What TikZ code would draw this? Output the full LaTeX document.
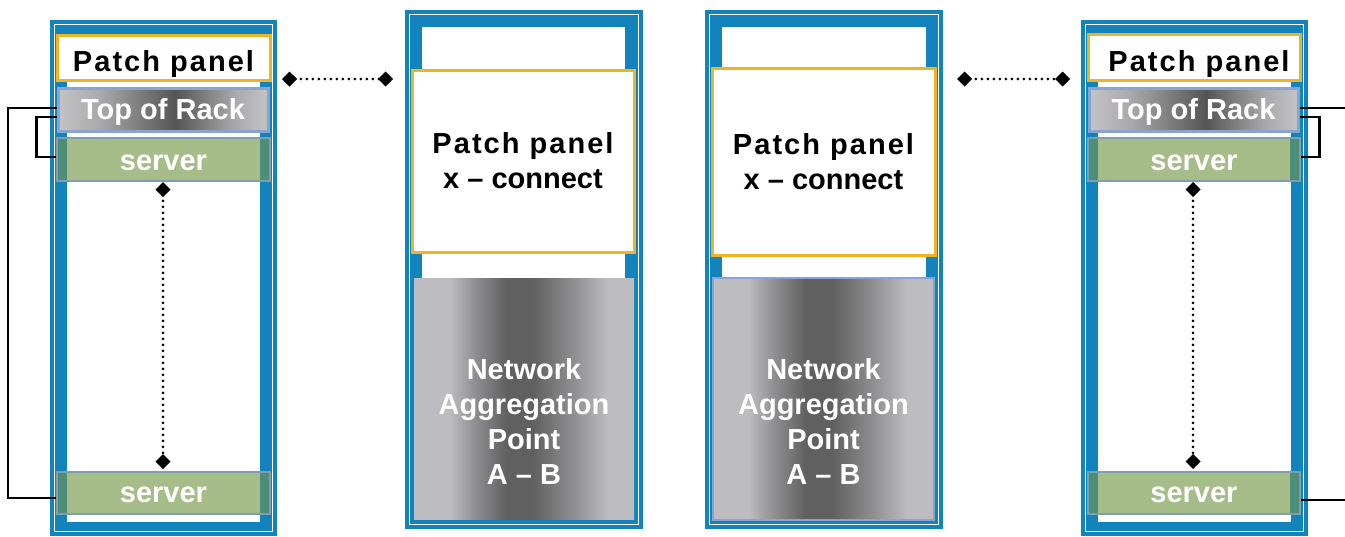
\documentclass[tikz,border=0pt]{standalone}
\usepackage{fontspec}
\setmainfont{Liberation Sans}
\newfontfamily\lsfont{Liberation Sans}[LetterSpace=7]
\usetikzlibrary{arrows.meta,calc}
\definecolor{rackblue}{HTML}{1283BC}
\definecolor{ppor}{HTML}{F0B323}
\definecolor{torb}{HTML}{88A4D0}
\definecolor{srvg}{HTML}{A7BD89}
\definecolor{srvd}{HTML}{4E8E78}
\definecolor{srvb}{HTML}{7E9FAE}
\definecolor{gl}{HTML}{BDBDC1}
\definecolor{gm}{HTML}{8E8E90}
\definecolor{gd}{HTML}{606060}
\definecolor{tl}{HTML}{C4C4C6}
\definecolor{tm}{HTML}{A9A9AB}
\definecolor{td}{HTML}{555555}
\pgfdeclarehorizontalshading{torshade}{100bp}{color(0bp)=(tl); color(25bp)=(tl); color(35bp)=(tm); color(53bp)=(td); color(67bp)=(tm); color(75bp)=(tl); color(100bp)=(tl)}
\pgfdeclarehorizontalshading{aggshade}{100bp}{color(0bp)=(gl); color(33bp)=(gl); color(39bp)=(gm); color(46bp)=(gd); color(52bp)=(gd); color(61bp)=(gm); color(69bp)=(gl); color(100bp)=(gl)}
\newcommand\myrack[8]{%
  \fill[rackblue] (#1,#2) rectangle (#3,#4);
  \draw[white,line width=1.4pt] ($(#1,#2)+(4.5,4.5)$) rectangle ($(#3,#4)+(-4.5,-4.5)$);
  \fill[white] (#5,#6) rectangle (#7,#8);}
\tikzset{
  bigfont/.style={font=\bfseries\fontsize{29}{35}\selectfont},
  pp/.style={draw=ppor, line width=3pt, fill=white, inner sep=0pt, bigfont, text=black},
  tor/.style={draw=torb, line width=3pt, shading=torshade, inner sep=0pt, bigfont, text=white},
  srv/.style={draw=srvb, line width=2pt, fill=srvg, inner sep=0pt, bigfont, text=white,
    path picture={
      \fill[srvd] (path picture bounding box.south west) rectangle ([xshift=10pt]path picture bounding box.north west);
      \fill[srvd] ([xshift=-10pt]path picture bounding box.south east) rectangle (path picture bounding box.north east);}},
  agg/.style={shading=aggshade, inner sep=0pt},
  aggtxt/.style={bigfont, text=white, align=center, inner sep=0pt},
  dots/.style={line width=3pt, dash pattern=on 0pt off 6pt, line cap=round,
    arrows={Diamond[length=15pt,width=15pt]-Diamond[length=15pt,width=15pt]}},
  wire/.style={line width=2.6pt, black},
  th/.style={text height=#1, text depth=0pt}
}
\begin{document}
\begin{tikzpicture}[x=1pt,y=-1pt]
\useasboundingbox (0,0) rectangle (1345,536);
% racks
\myrack{50}{20}{277}{536}{67}{35}{260}{522}
\myrack{405}{10}{643}{529}{422}{27}{625}{519}
\myrack{705}{10}{943}{529}{722}{27}{926}{519}
\myrack{1081}{20}{1308}{536}{1098}{35}{1291}{522}
% left rack
\node[pp, minimum width=213pt, minimum height=45pt, th=28.4pt] (pp1) at (163.5,57.5) {\lsfont Patch panel};
\node[tor, minimum width=210pt, minimum height=43pt, th=19.6pt] (tor1) at (163,109.5) {Top of Rack};
\node[srv, minimum width=213pt, minimum height=43pt, th=22pt] (srv1a) at (163.5,159.5) {server};
\node[srv, minimum width=213pt, minimum height=42pt, th=19.4pt] (srv1b) at (163.5,493) {server};
% centre rack 1
\node[pp, minimum width=222pt, minimum height=182pt, align=center, yshift=-2pt] (pp2) at (523,159) {{\lsfont Patch panel}\\x – connect};
\node[agg, minimum width=220pt, minimum height=241pt] (agg1) at (524,398.5) {};
\node[aggtxt] (agg1t) at (524,421) {Network\\Aggregation\\Point\\A – B};
% centre rack 2
\node[pp, minimum width=223pt, minimum height=187pt, align=center] (pp3) at (823.5,161.5) {{\lsfont Patch panel}\\x – connect};
\node[agg, draw=torb, line width=2.5pt, minimum width=221pt, minimum height=242pt] (agg2) at (823.5,399) {};
\node[aggtxt] (agg2t) at (823.5,421) {Network\\Aggregation\\Point\\A – B};
% right rack
\node[pp, minimum width=212pt, minimum height=46pt, th=29.4pt] (pp4) at (1194,57) {\hspace*{10pt}\lsfont Patch panel};
\node[tor, minimum width=209pt, minimum height=43pt, th=19.6pt] (tor4) at (1193.5,109.5) {Top of Rack};
\node[srv, minimum width=212pt, minimum height=43pt, th=22pt] (srv4a) at (1194,159.5) {server};
\node[srv, minimum width=212pt, minimum height=42pt, th=19.4pt] (srv4b) at (1194,493) {server};
% dotted links
\coordinate (d1a) at (282,79);
\coordinate (d1b) at (393,79);
\coordinate (d2a) at (957,79);
\coordinate (d2b) at (1070,79);
\coordinate (v1a) at (163,182);
\coordinate (v1b) at (163,469);
\coordinate (v4a) at (1193,182);
\coordinate (v4b) at (1193,469);
\draw[dots] (d1a) -- (d1b);
\draw[dots] (d2a) -- (d2b);
\draw[dots] (v1a) -- (v1b);
\draw[dots] (v4a) -- (v4b);
% wires
\coordinate (lc) at (8,300);
\draw[wire] ($(tor1.west)+(0,-1.5)$) -| (lc) |- ($(srv1b.west)+(0,5)$);
\draw[wire] ($(tor1.west)+(0,7.5)$) -- ++(-20,0) |- ($(srv1a.west)+(0,-2.5)$);
\coordinate (re1) at (1345,108);
\coordinate (re2) at (1345,500);
\draw[wire] ($(tor4.east)+(0,-1.5)$) -- (re1);
\draw[wire] ($(tor4.east)+(0,7.5)$) -- ++(20,0) |- ($(srv4a.east)+(0,-2.5)$);
\draw[wire] ($(srv4b.east)+(0,7)$) -- (re2);
\end{tikzpicture}
\end{document}
